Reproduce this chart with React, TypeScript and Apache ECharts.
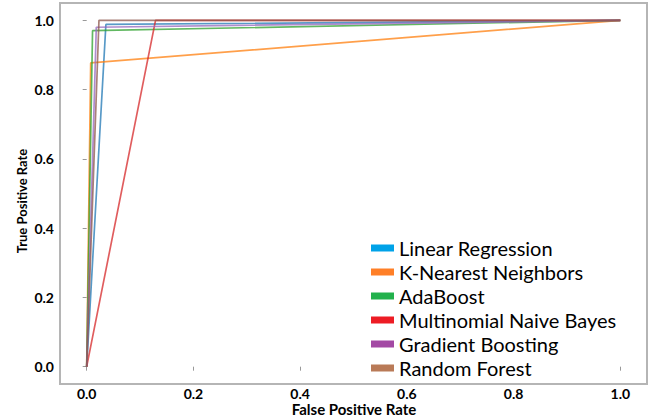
import React, { useEffect, useRef } from "react";
import * as echarts from "echarts";

const modelNames = [
  "Linear Regression",
  "K-Nearest Neighbors",
  "AdaBoost",
  "Multinomial Naive Bayes",
  "Gradient Boosting",
  "Random Forest",
];
// ROC operating points: [0,0] -> [fpr, tpr] -> [1,1]
const fprValues = [0.036, 0.0075, 0.011, 0.129, 0.018, 0.023];
const tprValues = [0.988, 0.877, 0.97, 1.0, 0.98, 1.0];
const tickValues = [0, 0.2, 0.4, 0.6, 0.8, 1.0];

const lineColors = ["#1f77b4", "#ff7f0e", "#2ca02c", "#d62728", "#9467bd", "#8c564b"];
const legendColors = ["#00a2e8", "#ff7f27", "#22b14c", "#ed1c24", "#a349a4", "#b97a57"];

const FONT = "Lato, 'Open Sans', sans-serif";

export default function App() {
  const ref = useRef<HTMLDivElement>(null);
  useEffect(() => {
    if (!ref.current) return;
    const chart = echarts.init(ref.current, undefined, { renderer: "svg" });
    const series = modelNames.map((name, i) => ({
      name,
      type: "line",
      data: [
        [0, 0],
        [fprValues[i], tprValues[i]],
        [1, 1],
      ],
      showSymbol: false,
      symbol: "none",
      lineStyle: { color: lineColors[i], width: 1.7, opacity: 0.75 },
      itemStyle: { color: lineColors[i] },
      z: 2 + i,
    }));
    const axisCommon = {
      type: "value",
      min: -0.05,
      max: 1.05,
      axisLine: { show: false },
      splitLine: { show: false },
      axisTick: {
        show: true,
        length: 4,
        inside: false,
        customValues: tickValues,
        lineStyle: { color: "#999", width: 1 },
      },
      axisLabel: {
        customValues: tickValues,
        formatter: (v: number) => v.toFixed(1),
        fontFamily: FONT,
        fontWeight: "bold",
        fontSize: 14,
        color: "#000",
      },
    };
    chart.setOption({
      animation: false,
      backgroundColor: "#fff",
      grid: {
        left: 60,
        right: 4,
        top: 3,
        bottom: 36,
        show: true,
        borderColor: "#b5b5b5",
        borderWidth: 2,
        backgroundColor: "transparent",
      },
      xAxis: { ...axisCommon, axisLabel: { ...axisCommon.axisLabel, margin: 2 } },
      yAxis: { ...axisCommon, axisLabel: { ...axisCommon.axisLabel, margin: 6 } },
      legend: {
        orient: "vertical",
        left: 371,
        top: 236,
        padding: 0,
        itemGap: 0,
        itemWidth: 23,
        itemHeight: 7,
        icon: "rect",
        selectedMode: false,
        textStyle: { fontFamily: FONT, fontSize: 20, color: "#000", lineHeight: 24 },
        data: modelNames.map((name, i) => ({
          name,
          icon: "rect",
          itemStyle: { color: legendColors[i], opacity: 1 },
        })),
      },
      graphic: [
        {
          type: "text",
          x: 354,
          y: 409,
          style: {
            text: "False Positive Rate",
            fontFamily: FONT,
            fontWeight: "bold",
            fontSize: 15,
            fill: "#000",
            align: "center",
            verticalAlign: "middle",
          },
        },
        {
          type: "text",
          x: 21.5,
          y: 201,
          rotation: Math.PI / 2,
          style: {
            text: "True Positive Rate",
            fontFamily: FONT,
            fontWeight: "bold",
            fontSize: 13,
            fill: "#000",
            align: "center",
            verticalAlign: "middle",
          },
        },
      ],
      series,
    });
    return () => chart.dispose();
  }, []);
  return (
    <div
      ref={ref}
      style={{ position: "fixed", left: 0, top: 0, width: 651, height: 420, background: "#fff" }}
    />
  );
}
